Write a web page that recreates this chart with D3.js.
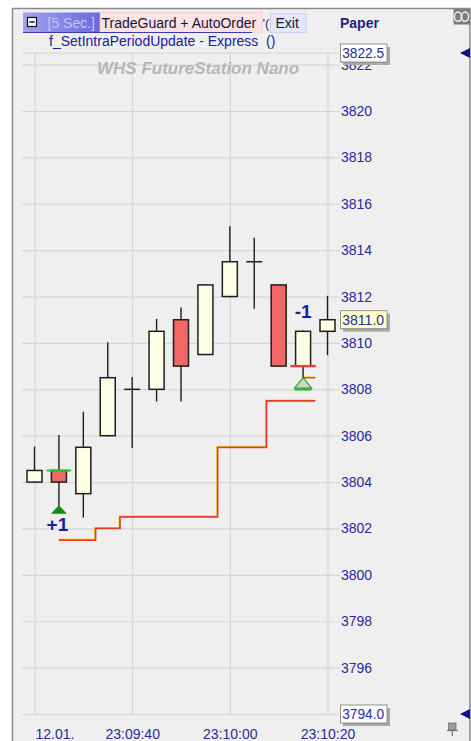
<!DOCTYPE html>
<html>
<head>
<meta charset="utf-8">
<script src="https://cdn.jsdelivr.net/npm/d3@7"></script>
<style>
  html, body { margin: 0; padding: 0; background: #ffffff; }
  svg { display: block; font-family: "Liberation Sans", Arial, sans-serif; }
</style>
</head>
<body>
<svg id="chart" width="471" height="741"></svg>
<script>
// 5-second bars, 12.01.
const barTimes = ["23:09:20", "23:09:25", "23:09:30", "23:09:35", "23:09:40", "23:09:45", "23:09:50",
                  "23:09:55", "23:10:00", "23:10:05", "23:10:10", "23:10:15", "23:10:20"];
const opens  = [3804.0, 3804.5, 3803.5, 3806.0, 3808.0, 3808.0, 3811.0, 3809.5, 3812.0, 3813.5, 3812.5, 3809.0, 3810.5];
const highs  = [3805.5, 3806.0, 3807.0, 3810.0, 3808.5, 3811.0, 3811.5, 3812.5, 3815.0, 3814.5, 3812.5, 3810.5, 3812.0];
const lows   = [3804.0, 3803.0, 3802.5, 3806.0, 3805.5, 3807.5, 3807.5, 3809.5, 3812.0, 3811.5, 3809.0, 3808.5, 3809.5];
const closes = [3804.5, 3804.0, 3805.5, 3808.5, 3808.0, 3810.5, 3809.0, 3812.5, 3813.5, 3813.5, 3809.0, 3810.5, 3811.0];

// trailing stop of the open position, one level per bar
const stopTimes  = ["23:09:25", "23:09:30", "23:09:35", "23:09:40", "23:09:45", "23:09:50",
                    "23:09:55", "23:10:00", "23:10:05", "23:10:10", "23:10:15"];
const stopLevels = [3801.5, 3801.5, 3802.0, 3802.5, 3802.5, 3802.5, 3802.5, 3805.5, 3805.5, 3807.5, 3807.5];
const exitStop   = { time: "23:10:15", price: 3808.5 };

// executions
const entryTrade = { time: "23:09:25", price: 3804.5, label: "+1" };
const exitTrade  = { time: "23:10:15", price: 3809.0, label: "-1" };

// axes
const priceDomain = [3794.0, 3822.5];
const priceTicks  = d3.range(3794, 3823, 2);
const timeTicks   = ["23:09:20", "23:09:40", "23:10:00", "23:10:20"];
const dateLabel   = "12.01.";
const lastPrice   = closes[closes.length - 1];

const parse = s => d3.timeParse("%Y-%m-%d %H:%M:%S")("2021-01-12 " + s);

const svg = d3.select("#chart");

const x = d3.scaleTime()
  .domain([parse(barTimes[0]), parse(barTimes[barTimes.length - 1])])
  .range([34.5, 327.5]);
const y = d3.scaleLinear().domain(priceDomain).range([714, 53]);
const step = x(parse(barTimes[1])) - x(parse(barTimes[0]));

const navy = "#2a2a9c";

// frame
svg.append("rect").attr("x", 12.5).attr("y", 8.5).attr("width", 457.5).attr("height", 740)
  .attr("fill", "#efefef").attr("stroke", "#8a8a8a").attr("stroke-width", 1.5);

// price grid + labels
const yAxis = d3.axisRight(y).tickValues(priceTicks).tickSize(-(340 - 22)).tickPadding(1)
  .tickFormat(d3.format("d"));
const gy = svg.append("g").attr("transform", "translate(340,0)").call(yAxis);
gy.select(".domain").remove();
gy.selectAll(".tick line").attr("stroke", "#d6d6d6").attr("stroke-width", 1.2);
gy.selectAll(".tick text").attr("fill", navy).attr("font-size", 14)
  .attr("font-family", "'Liberation Sans', Arial, sans-serif");

// upper edge of the price range
svg.append("line").attr("x1", 22).attr("x2", 340).attr("y1", y(priceDomain[1])).attr("y2", y(priceDomain[1]))
  .attr("stroke", "#d6d6d6").attr("stroke-width", 1.2);

// time grid + labels
const xAxis = d3.axisBottom(x).tickValues(timeTicks.map(parse))
  .tickSize(-(y(priceDomain[0]) - y(priceDomain[1]))).tickPadding(15)
  .tickFormat((d, i) => i === 0 ? dateLabel : d3.timeFormat("%H:%M:%S")(d));
const gx = svg.append("g").attr("transform", `translate(0,${y(priceDomain[0])})`).call(xAxis);
gx.select(".domain").remove();
gx.selectAll(".tick line").attr("stroke", "#d6d6d6").attr("stroke-width", 1.2);
gx.selectAll(".tick text").attr("fill", navy).attr("font-size", 14)
  .attr("font-family", "'Liberation Sans', Arial, sans-serif")
  .attr("text-anchor", (d, i) => i === 0 ? "start" : "middle")
  .attr("x", (d, i) => i === 0 ? 0.5 : 0);

// watermark
svg.append("text").attr("x", 97).attr("y", 73.5).attr("font-size", 17).attr("font-weight", "bold")
  .attr("font-style", "italic").attr("fill", "#b6b6b6").text("WHS FutureStation Nano");

// stop line: one horizontal step per bar, changing half-way between bars
function stepPath(times, levels, startAtCenter) {
  const p = d3.path();
  times.forEach((t, i) => {
    const cx = x(parse(t));
    const x0 = (i === 0 && startAtCenter) ? cx : cx - step / 2;
    const yy = y(levels[i]);
    if (i === 0) p.moveTo(x0, yy); else p.lineTo(x0, yy);
    p.lineTo(cx + step / 2, yy);
  });
  return p.toString();
}
const stopD = stepPath(stopTimes, stopLevels, true);
svg.append("path").attr("d", stopD).attr("fill", "none").attr("stroke", "#f2e23a")
  .attr("stroke-width", 1.3).attr("transform", "translate(-0.9,-0.9)");
svg.append("path").attr("d", stopD).attr("fill", "none").attr("stroke", "#e63a2a").attr("stroke-width", 1.7);

const exD = stepPath([exitStop.time], [exitStop.price], true);
svg.append("path").attr("d", exD).attr("fill", "none").attr("stroke", "#f2e23a")
  .attr("stroke-width", 1.3).attr("transform", "translate(0,-0.9)");
svg.append("path").attr("d", exD).attr("fill", "none").attr("stroke", "#e63a2a").attr("stroke-width", 1.4);

// candles
const bars = barTimes.map((t, i) => ({ t: parse(t), o: opens[i], h: highs[i], l: lows[i], c: closes[i] }));
const bw = 15;
const cg = svg.append("g").selectAll("g").data(bars).join("g");
cg.append("line")
  .attr("x1", d => x(d.t)).attr("x2", d => x(d.t))
  .attr("y1", d => y(d.h)).attr("y2", d => y(d.l))
  .attr("stroke", "#1e1e1e").attr("stroke-width", 1.4).attr("stroke-linecap", "square");
cg.filter(d => d.o !== d.c).append("rect")
  .attr("x", d => x(d.t) - bw / 2).attr("width", bw)
  .attr("y", d => y(Math.max(d.o, d.c)))
  .attr("height", d => y(Math.min(d.o, d.c)) - y(Math.max(d.o, d.c)))
  .attr("fill", d => d.c > d.o ? "#ffffe6" : "#f26666")
  .attr("stroke", "#1e1e1e").attr("stroke-width", 1.5);
cg.filter(d => d.o === d.c).append("line")
  .attr("x1", d => x(d.t) - 8).attr("x2", d => x(d.t) + 8)
  .attr("y1", d => y(d.o)).attr("y2", d => y(d.o))
  .attr("stroke", "#1e1e1e").attr("stroke-width", 1.5);

// entry: buy marker below the bar, fill line at the entry price
{
  const cx = x(parse(entryTrade.time));
  const bar = bars.find(b => +b.t === +parse(entryTrade.time));
  const ty = y(bar.l);
  svg.append("line").attr("x1", cx - step / 2).attr("x2", cx + step / 2)
    .attr("y1", y(entryTrade.price)).attr("y2", y(entryTrade.price))
    .attr("stroke", "#22d022").attr("stroke-width", 2.2);
  svg.append("path").attr("d", `M${cx},${ty} L${cx + 8},${ty + 8.5} L${cx - 8},${ty + 8.5} Z`)
    .attr("fill", "#128a12");
  svg.append("text").attr("x", cx - 1.5).attr("y", ty + 25.5).attr("text-anchor", "middle")
    .attr("font-size", 19).attr("font-weight", "bold").attr("fill", "#1c1ca0").text(entryTrade.label);
}

// exit: fill line, hollow marker below the bar, quantity above it
{
  const cx = x(parse(exitTrade.time));
  const bar = bars.find(b => +b.t === +parse(exitTrade.time));
  const ty = y(bar.l);
  svg.append("line").attr("x1", cx - step / 2 - 0.5).attr("x2", cx + step / 2 + 0.5)
    .attr("y1", y(exitTrade.price)).attr("y2", y(exitTrade.price))
    .attr("stroke", "#f03a3a").attr("stroke-width", 2.4);
  svg.append("path").attr("d", `M${cx},${ty} L${cx + 8.5},${ty + 10.5} L${cx - 8.5},${ty + 10.5} Z`)
    .attr("fill", "#cdd6cd").attr("stroke", "#2ea02e").attr("stroke-width", 1.2);
  svg.append("line").attr("x1", cx - 8.5).attr("x2", cx + 8.5).attr("y1", ty + 11.8).attr("y2", ty + 11.8)
    .attr("stroke", "#2eb02e").attr("stroke-width", 2);
  svg.append("text").attr("x", cx).attr("y", y(Math.max(bar.o, bar.c)) - 13).attr("text-anchor", "middle")
    .attr("font-size", 19).attr("font-weight", "bold").attr("fill", "#1c1ca0").text(exitTrade.label);
}

// value boxes on the price scale (they cover the tick label underneath)
function valueBox(price, fill) {
  const cy = y(price);
  const g = svg.append("g");
  g.append("rect").attr("x", 343).attr("y", cy - 6).attr("width", 47).attr("height", 18).attr("fill", "#a9a9a9");
  g.append("rect").attr("x", 340.5).attr("y", cy - 9).attr("width", 46.5).attr("height", 18)
    .attr("fill", fill).attr("stroke", "#7a7a7a").attr("stroke-width", 0.8);
  g.append("text").attr("x", 342.2).attr("y", cy + 5).attr("font-size", 14).attr("fill", navy)
    .attr("textLength", 42).attr("lengthAdjust", "spacingAndGlyphs")
    .text(d3.format(".1f")(price));
}
valueBox(priceDomain[1], "#ffffff");
valueBox(priceDomain[0], "#ffffff");
valueBox(lastPrice, "#ffffcc");

// range arrows at the right edge
[priceDomain[1], priceDomain[0]].forEach(p => {
  const cy = y(p);
  svg.append("path").attr("d", `M460,${cy} L470,${cy - 5} L470,${cy + 5} Z`).attr("fill", "#10108a");
});

// header
const defs = svg.append("defs");
const grad = defs.append("linearGradient").attr("id", "hdrGrad");
grad.append("stop").attr("offset", "0%").attr("stop-color", "#a2a2f2");
grad.append("stop").attr("offset", "100%").attr("stop-color", "#6a6ad8");
svg.append("rect").attr("x", 23).attr("y", 12.5).attr("width", 77).attr("height", 20)
  .attr("fill", "url(#hdrGrad)");
svg.append("rect").attr("x", 27.5).attr("y", 17.5).attr("width", 9).attr("height", 9)
  .attr("fill", "#ffffff").attr("stroke", "#111111").attr("stroke-width", 1.2);
svg.append("line").attr("x1", 29.5).attr("x2", 34.5).attr("y1", 22).attr("y2", 22)
  .attr("stroke", "#111111").attr("stroke-width", 1.5);
svg.append("text").attr("x", 47.5).attr("y", 28.3).attr("font-size", 14).attr("fill", "#c4c4ff").text("[5 Sec.]");
svg.append("rect").attr("x", 100).attr("y", 12.5).attr("width", 162).attr("height", 20)
  .attr("fill", "#fde2e2").attr("stroke", "#f0c0c0").attr("stroke-width", 0.6);
svg.append("text").attr("x", 101.5).attr("y", 28.3).attr("font-size", 14).attr("fill", "#15153a")
  .text("TradeGuard + AutoOrder");
svg.append("line").attr("x1", 23).attr("x2", 252).attr("y1", 32.5).attr("y2", 32.5)
  .attr("stroke", "#3a3ab4").attr("stroke-width", 1.2);
svg.append("text").attr("x", 262.5).attr("y", 28.3).attr("font-size", 13).attr("fill", "#2a2a8a").text("'(");
svg.append("rect").attr("x", 270.5).attr("y", 13.5).attr("width", 35.5).attr("height", 19)
  .attr("fill", "#e3e7fb").attr("stroke", "#c4cbee").attr("stroke-width", 0.8);
svg.append("text").attr("x", 275.5).attr("y", 28.3).attr("font-size", 14).attr("fill", "#15153a").text("Exit");
svg.append("text").attr("x", 49).attr("y", 45.5).attr("font-size", 14).attr("fill", "#20209c")
  .text("f_SetIntraPeriodUpdate - Express \u00a0()");
svg.append("text").attr("x", 340).attr("y", 28).attr("font-size", 14).attr("font-weight", "bold")
  .attr("fill", "#22227e").text("Paper");

// link icon, top right
svg.append("rect").attr("x", 453.5).attr("y", 9).attr("width", 16.5).attr("height", 15.5).attr("fill", "#7c7c7c");
[458, 465].forEach(cx => svg.append("ellipse").attr("cx", cx).attr("cy", 16.7).attr("rx", 3.6).attr("ry", 4.6)
  .attr("fill", "none").attr("stroke", "#f2f2f2").attr("stroke-width", 1.5));

// pin icon, bottom right
svg.append("rect").attr("x", 448.5).attr("y", 723).attr("width", 7.5).attr("height", 7).attr("fill", "#9a9a9a")
  .attr("stroke", "#707070").attr("stroke-width", 0.8);
svg.append("line").attr("x1", 447).attr("x2", 458).attr("y1", 730.5).attr("y2", 730.5).attr("stroke", "#707070").attr("stroke-width", 1.2);
svg.append("line").attr("x1", 452.3).attr("x2", 452.3).attr("y1", 730.5).attr("y2", 736).attr("stroke", "#707070").attr("stroke-width", 1.2);
</script>
</body>
</html>
